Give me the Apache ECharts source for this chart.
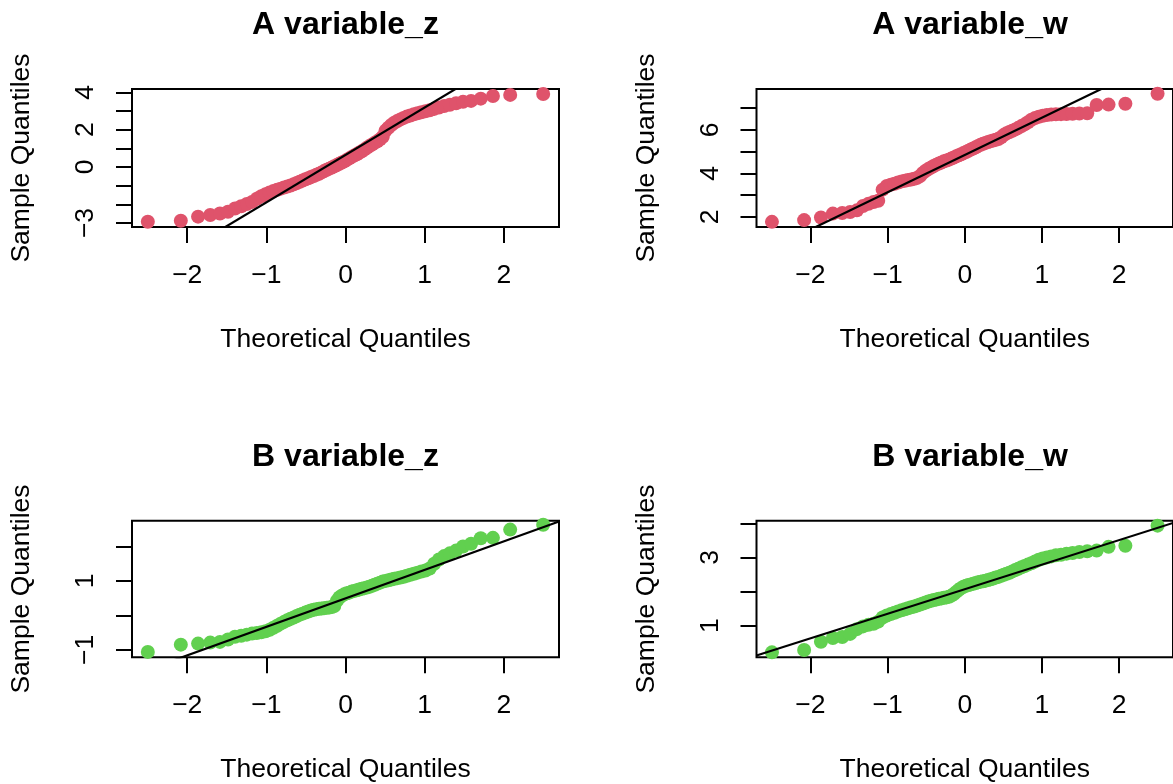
<!DOCTYPE html>
<html>
<head>
<meta charset="utf-8">
<script src="https://cdn.jsdelivr.net/npm/echarts@6/dist/echarts.min.js"></script>
<style>
  html, body { margin: 0; padding: 0; background: #ffffff; }
  #chart { width: 1173px; height: 784px; }
</style>
</head>
<body>
<div id="chart"></div>
<script>
// Normal scores for n = 80 observations (shared by every panel)
const theoreticalQuantiles = [
  -2.498, -2.081, -1.863, -1.709, -1.587, -1.485, -1.397, -1.318, -1.247, -1.181,
  -1.121, -1.064, -1.010, -0.959, -0.911, -0.864, -0.819, -0.776, -0.735, -0.694,
  -0.655, -0.616, -0.579, -0.542, -0.506, -0.471, -0.436, -0.402, -0.368, -0.335,
  -0.302, -0.270, -0.237, -0.205, -0.173, -0.142, -0.110, -0.078, -0.047, -0.016,
   0.016,  0.047,  0.078,  0.110,  0.142,  0.173,  0.205,  0.237,  0.270,  0.302,
   0.335,  0.368,  0.402,  0.436,  0.471,  0.506,  0.542,  0.579,  0.616,  0.655,
   0.694,  0.735,  0.776,  0.819,  0.864,  0.911,  0.959,  1.010,  1.064,  1.121,
   1.181,  1.247,  1.318,  1.397,  1.485,  1.587,  1.709,  1.863,  2.081,  2.498
];

// Sorted sample values per group / variable
const sampleAz = [
  -2.93, -2.88, -2.66, -2.57, -2.49, -2.40, -2.22, -2.10, -1.98, -1.87,
  -1.70, -1.57, -1.46, -1.37, -1.29, -1.22, -1.16, -1.10, -1.05, -0.99,
  -0.93, -0.86, -0.79, -0.72, -0.66, -0.60, -0.54, -0.48, -0.42, -0.36,
  -0.29, -0.22, -0.15, -0.09, -0.03,  0.04,  0.10,  0.17,  0.24,  0.30,
   0.38,  0.46,  0.54,  0.61,  0.68,  0.76,  0.84,  0.93,  1.03,  1.12,
   1.20,  1.29,  1.38,  1.48,  1.62,  1.95,  2.10,  2.25,  2.37,  2.46,
   2.55,  2.63,  2.70,  2.76,  2.82,  2.88,  2.93,  2.98,  3.04,  3.11,
   3.18,  3.26,  3.33,  3.41,  3.49,  3.54,  3.66,  3.80,  3.86,  3.91
];
const sampleAw = [
  1.77, 1.85, 1.97, 2.15, 2.18, 2.22, 2.30, 2.50, 2.60, 2.68,
  2.74, 3.25, 3.42, 3.48, 3.52, 3.58, 3.63, 3.66, 3.69, 3.72,
  3.75, 3.79, 3.88, 4.02, 4.12, 4.20, 4.27, 4.34, 4.40, 4.45,
  4.50, 4.55, 4.59, 4.63, 4.68, 4.73, 4.78, 4.83, 4.88, 4.93,
  4.98, 5.04, 5.09, 5.14, 5.20, 5.26, 5.31, 5.36, 5.40, 5.44,
  5.48, 5.51, 5.54, 5.58, 5.66, 5.76, 5.84, 5.90, 5.96, 6.02,
  6.09, 6.17, 6.25, 6.35, 6.46, 6.54, 6.60, 6.65, 6.68, 6.70,
  6.71, 6.72, 6.73, 6.74, 6.75, 6.76, 7.14, 7.16, 7.20, 7.66
];
const sampleBz = [
  -1.06, -0.85, -0.82, -0.79, -0.77, -0.70, -0.62, -0.59, -0.56, -0.53,
  -0.51, -0.49, -0.46, -0.42, -0.36, -0.30, -0.24, -0.19, -0.14, -0.10,
  -0.06, -0.02,  0.02,  0.05,  0.08,  0.11,  0.14,  0.16,  0.18,  0.19,
   0.20,  0.21,  0.22,  0.23,  0.24,  0.27,  0.42,  0.52,  0.57,  0.61,
   0.64,  0.66,  0.69,  0.71,  0.73,  0.75,  0.77,  0.79,  0.81,  0.83,
   0.86,  0.89,  0.92,  0.95,  0.98,  1.00,  1.02,  1.04,  1.06,  1.08,
   1.10,  1.12,  1.15,  1.18,  1.21,  1.24,  1.27,  1.30,  1.36,  1.50,
   1.62,  1.72,  1.80,  1.88,  2.00,  2.08,  2.24,  2.25,  2.49,  2.63
];
const sampleBw = [
  0.22, 0.29, 0.53, 0.64, 0.67, 0.76, 0.90, 0.98, 1.03, 1.06,
  1.12, 1.24, 1.30, 1.34, 1.38, 1.42, 1.45, 1.48, 1.51, 1.54,
  1.56, 1.59, 1.62, 1.65, 1.68, 1.71, 1.73, 1.75, 1.77, 1.79,
  1.80, 1.82, 1.83, 1.85, 1.88, 1.93, 1.99, 2.05, 2.10, 2.14,
  2.17, 2.19, 2.21, 2.23, 2.25, 2.27, 2.29, 2.30, 2.32, 2.34,
  2.36, 2.38, 2.41, 2.43, 2.46, 2.49, 2.52, 2.55, 2.59, 2.63,
  2.67, 2.71, 2.75, 2.79, 2.83, 2.88, 2.93, 2.97, 3.00, 3.03,
  3.06, 3.08, 3.11, 3.13, 3.16, 3.18, 3.20, 3.31, 3.34, 3.93
];

// Reference lines through the quartiles: [intercept, slope]
const qqLineAz = [0.645, 2.54];
const qqLineAw = [4.843, 1.714];
const qqLineBz = [0.493, 0.827];
const qqLineBw = [2.070, 0.719];

const panelTitles = ['A variable_z', 'A variable_w', 'B variable_z', 'B variable_w'];

// Axis extents and ticks
const xLimits = [-2.698, 2.698];
const xTicks = [-2, -1, 0, 1, 2];
const yLimitsAz = [-3.214, 4.177];
const yLimitsAw = [1.534, 7.876];
const yLimitsBz = [-1.216, 2.748];
const yLimitsBw = [0.077, 4.075];
const yTicksAz = [-3, -2, -1, 0, 1, 2, 3, 4];
const yTicksAw = [2, 3, 4, 5, 6, 7];
const yTicksBz = [-1, 0, 1, 2];
const yTicksBw = [1, 2, 3, 4];
const yLabelsAz = [-3, 0, 2, 4];
const yLabelsAw = [2, 4, 6];
const yLabelsBz = [-1, 1];
const yLabelsBw = [1, 3];

const RED = '#DF536B';
const GREEN = '#61D04F';
const FONT = '"Liberation Sans", Arial, Helvetica, sans-serif';

const panels = [
  { title: panelTitles[0], sample: sampleAz, line: qqLineAz, yLim: yLimitsAz, yTicks: yTicksAz, yLabels: yLabelsAz, color: RED },
  { title: panelTitles[1], sample: sampleAw, line: qqLineAw, yLim: yLimitsAw, yTicks: yTicksAw, yLabels: yLabelsAw, color: RED },
  { title: panelTitles[2], sample: sampleBz, line: qqLineBz, yLim: yLimitsBz, yTicks: yTicksBz, yLabels: yLabelsBz, color: GREEN },
  { title: panelTitles[3], sample: sampleBw, line: qqLineBw, yLim: yLimitsBw, yTicks: yTicksBw, yLabels: yLabelsBw, color: GREEN }
];

// Plot-region layout of the 2 x 2 grid
const colLeft = [132, 756.5];
const rowTop = [89, 520.7];
const boxW = 427;
const boxH = 138;

const fmt = v => (v < 0 ? '\u2212' + Math.abs(v) : String(v));
const txt = { color: '#000', fontFamily: FONT, fontSize: 26.5, lineHeight: 26.5 };

const grids = [], xAxes = [], yAxes = [], series = [], titles = [];

panels.forEach((p, i) => {
  const col = i % 2, row = Math.floor(i / 2);
  const left = colLeft[col], top = rowTop[row];
  grids.push({
    left: left, top: top, width: boxW, height: boxH,
    show: true, borderColor: '#000', borderWidth: 2, backgroundColor: 'transparent',
    containLabel: false
  });
  xAxes.push({
    type: 'value', gridIndex: i, min: xLimits[0], max: xLimits[1],
    axisLine: { show: false, onZero: false },
    axisTick: { show: true, customValues: xTicks, length: 16, lineStyle: { color: '#000', width: 2 } },
    axisLabel: Object.assign({ show: true, customValues: xTicks, margin: 35, formatter: fmt }, txt),
    splitLine: { show: false },
    name: 'Theoretical Quantiles', nameLocation: 'middle', nameGap: 99,
    nameTextStyle: Object.assign({}, txt)
  });
  yAxes.push({
    type: 'value', gridIndex: i, min: p.yLim[0], max: p.yLim[1],
    axisLine: { show: false, onZero: false },
    axisTick: { show: true, customValues: p.yTicks, length: 16, lineStyle: { color: '#000', width: 2 } },
    axisLabel: Object.assign({ show: true, customValues: p.yLabels, rotate: 90, margin: 33, formatter: fmt }, txt),
    splitLine: { show: false },
    name: 'Sample Quantiles', nameLocation: 'middle', nameGap: 97,
    nameTextStyle: Object.assign({}, txt)
  });
  series.push({
    type: 'scatter', xAxisIndex: i, yAxisIndex: i,
    data: theoreticalQuantiles.map((q, k) => [q, p.sample[k]]),
    symbol: 'circle', symbolSize: 14,
    itemStyle: { color: p.color, opacity: 1 },
    silent: true, z: 2
  });
  const a = p.line[0], b = p.line[1];
  series.push({
    type: 'line', xAxisIndex: i, yAxisIndex: i,
    data: [[xLimits[0], a + b * xLimits[0]], [xLimits[1], a + b * xLimits[1]]],
    symbol: 'none', clip: true,
    lineStyle: { color: '#000', width: 2.2 },
    silent: true, z: 3
  });
  titles.push({
    text: p.title, left: left + boxW / 2, top: 9.5 + (top - rowTop[0]), textAlign: 'center',
    padding: 0,
    textStyle: { color: '#000', fontFamily: FONT, fontSize: 32, fontWeight: 'bold', lineHeight: 32 }
  });
});

const chart = echarts.init(document.getElementById('chart'), null, { renderer: 'canvas' });
chart.setOption({
  animation: false,
  backgroundColor: '#ffffff',
  title: titles,
  grid: grids,
  xAxis: xAxes,
  yAxis: yAxes,
  series: series
});
</script>
</body>
</html>
